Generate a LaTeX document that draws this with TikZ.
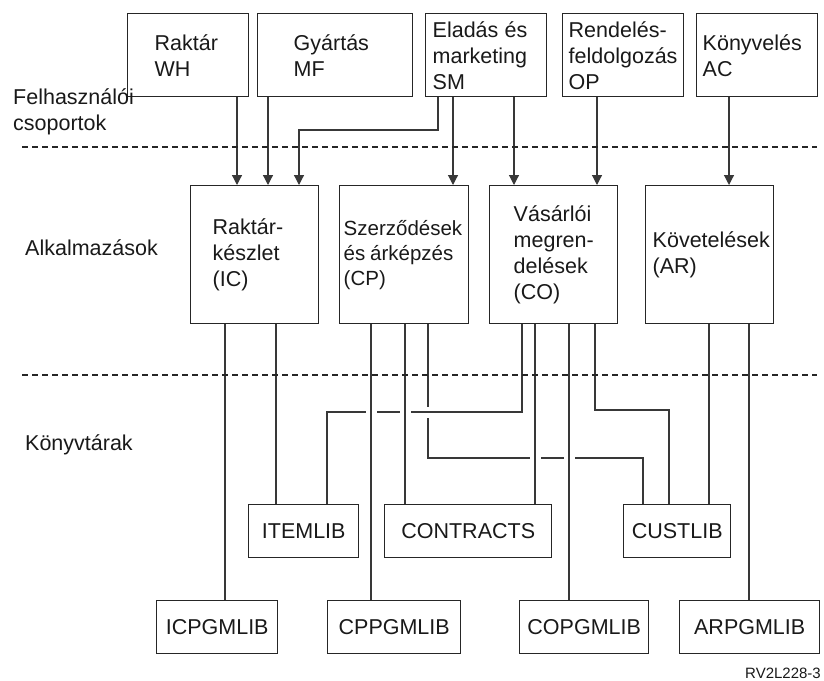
\documentclass[tikz,border=0pt]{standalone}
\usepackage{fontspec}
\setmainfont{Liberation Sans}
\usetikzlibrary{arrows.meta,backgrounds}
\hyphenpenalty=10000
\exhyphenpenalty=10000
\hbadness=10000
\hfuzz=20pt

\begin{document}
\begin{tikzpicture}[x=1pt,y=-1pt,
  font=\fontsize{21.5}{26}\selectfont,
  every node/.style={text=black!90},
  tbox/.style={draw=black!85, line width=1.4pt, anchor=north west, align=left, inner ysep=0pt},
  lbox/.style={draw=black!85, line width=1.4pt, anchor=north west, align=center,
               minimum height=53pt, inner sep=0pt},
  ln/.style={draw=black!78, line width=1.2pt},
  arr/.style={ln, -{Triangle[width=10pt,length=10pt]}},
  over/.style={preaction={draw=white, line width=11pt}},
  sep/.style={draw=black!85, line width=1.7pt, dash pattern=on 6pt off 4pt},
  lbl/.style={inner sep=0pt}]
\useasboundingbox (0,0) rectangle (824,680);

% user groups
\node[tbox, minimum width=121pt, minimum height=83pt, text width=67pt,  inner xsep=27pt] (wh) at (127,13) {Raktár\\WH};
\node[tbox, minimum width=155pt, minimum height=83pt, text width=83pt,  inner xsep=36pt] (mf) at (257,13) {Gyártás\\MF};
\node[tbox, minimum width=121pt, minimum height=83pt, text width=107pt, inner xsep=7pt]  (sm) at (425,13) {Eladás\kern-1pt\ és\\marketing\\SM};
\node[tbox, minimum width=121pt, minimum height=83pt, text width=109pt, inner xsep=6pt]  (op) at (562,13) {Rendelés-\\feldolgozás\\OP};
\node[tbox, minimum width=121pt, minimum height=83pt, text width=109pt, inner xsep=6pt]  (ac) at (696,13) {Könyvelés\\AC};

% applications
\node[tbox, minimum width=128pt, minimum height=138pt, text width=84pt,  inner xsep=22pt] (ic) at (190,185) {Raktár-\\készlet\\(IC)};
\node[tbox, minimum width=129pt, minimum height=138pt, text width=121pt, inner xsep=4pt,
      font=\fontsize{20.5}{25}\selectfont] (cp) at (339,185) {Szerződések\\és\kern-2pt\ árképzés\\(CP)};
\node[tbox, minimum width=128pt, minimum height=138pt, text width=80pt,  inner xsep=24pt] (co) at (489,185) {Vásárlói\\megren-\\delések\\(CO)};
\node[tbox, minimum width=128pt, minimum height=138pt, text width=114pt, inner xsep=7pt]  (ar) at (645,185) {Követelések\\(AR)};

% libraries
\node[lbox, minimum width=110pt] (itemlib)   at (248,504) {ITEMLIB};
\node[lbox, minimum width=167pt] (contracts) at (384,504) {CONTRACTS};
\node[lbox, minimum width=107pt] (custlib)   at (623,504) {CUSTLIB};
\node[lbox, minimum width=121pt] (icpgm)     at (156,600) {ICPGMLIB};
\node[lbox, minimum width=133pt] (cppgm)     at (327,600) {CPPGMLIB};
\node[lbox, minimum width=129pt] (copgm)     at (519,600) {COPGMLIB};
\node[lbox, minimum width=140pt] (arpgm)     at (679,600) {ARPGMLIB};

% row labels
\node[lbl, anchor=north west, align=left] (users) at (13,88) {Felhasználói\\csoportok};
\node[lbl, anchor=base west] (apps) at (25,255) {Alkalmazások};
\node[lbl, anchor=base west] (libs) at (25,450) {Könyvtárak};
\node[lbl, anchor=base east, font=\fontsize{15}{17}\selectfont] (code) at (821,678) {RV2L228-3};

\begin{pgfonlayer}{background}
  % groups to applications
  \draw[arr] (237,0 |- wh.south) -- (237,0 |- ic.north);
  \draw[arr] (268,0 |- mf.south) -- (268,0 |- ic.north);
  \draw[arr] (438,0 |- sm.south) |- (299,130) -- (299,0 |- ic.north);
  \draw[arr] (453,0 |- sm.south) -- (453,0 |- cp.north);
  \draw[arr] (514,0 |- sm.south) -- (514,0 |- co.north);
  \draw[arr] (597,0 |- op.south) -- (597,0 |- co.north);
  \draw[arr] (729,0 |- ac.south) -- (729,0 |- ar.north);

  % applications to libraries
  \draw[ln] (225,0 |- ic.south) -- (225,0 |- icpgm.north);
  \draw[ln] (276,0 |- ic.south) -- (276,0 |- itemlib.north);
  \draw[ln] (428,0 |- cp.south) |- (643,458) -- (643,0 |- custlib.north);
  \draw[ln, over] (327,0 |- itemlib.north) |- (522,412) -- (522,0 |- co.south);
  \draw[ln] (595,0 |- co.south) |- (669,410) -- (669,0 |- custlib.north);
  \draw[ln, over] (371,0 |- cp.south) -- (371,0 |- cppgm.north);
  \draw[ln, over] (405,0 |- cp.south) -- (405,0 |- contracts.north);
  \draw[ln, over] (535,0 |- co.south) -- (535,0 |- contracts.north);
  \draw[ln, over] (569,0 |- co.south) -- (569,0 |- copgm.north);
  \draw[ln] (709,0 |- ar.south) -- (709,0 |- custlib.north);
  \draw[ln] (749,0 |- ar.south) -- (749,0 |- arpgm.north);
\end{pgfonlayer}

% layer separators
\draw[sep] (22,147) -- (817,147);
\draw[sep] (22,375) -- (817,375);
\end{tikzpicture}
\end{document}
